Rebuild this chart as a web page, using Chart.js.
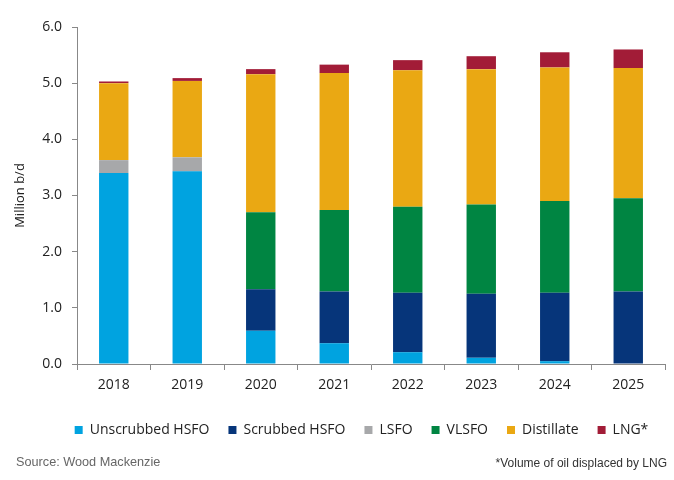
<!DOCTYPE html>
<html>
<head>
<meta charset="utf-8">
<script src="https://cdn.jsdelivr.net/npm/chart.js@4/dist/chart.umd.min.js"></script>
<style>
  html, body { margin: 0; padding: 0; background: #fff; }
  #wrap { position: relative; width: 674px; height: 480px; }
  #c { position: absolute; left: 0; top: 0; }
  .note { position: absolute; font-family: "Liberation Sans", Arial, sans-serif; white-space: nowrap; }
</style>
</head>
<body>
<div id="wrap">
  <canvas id="c" width="674" height="480"></canvas>
  <div class="note" style="left:16px; top:455px; font-size:12.7px; color:#666;">Source: Wood Mackenzie</div>
  <div class="note" style="right:7px; top:456px; font-size:12px; color:#333;">*Volume of oil displaced by LNG</div>
</div>
<script>
const years = ["2018","2019","2020","2021","2022","2023","2024","2025"];
const unscrubbedHSFO = [3.40, 3.43, 0.59, 0.37, 0.21, 0.11, 0.05, 0.00];
const scrubbedHSFO   = [0.00, 0.00, 0.74, 0.92, 1.06, 1.14, 1.22, 1.29];
const lsfo           = [0.23, 0.25, 0.00, 0.00, 0.00, 0.00, 0.00, 0.00];
const vlsfo          = [0.00, 0.00, 1.37, 1.45, 1.53, 1.59, 1.63, 1.66];
const distillate     = [1.37, 1.36, 2.46, 2.44, 2.43, 2.41, 2.38, 2.32];
const lng            = [0.03, 0.05, 0.09, 0.15, 0.18, 0.23, 0.27, 0.33];
const yTicks = [0, 1, 2, 3, 4, 5, 6];

const font = "'Open Sans', 'Liberation Sans', Arial, sans-serif";
const mk = (label, data, color) => ({ label, data, backgroundColor: color, borderWidth: 0, barPercentage: 0.4, categoryPercentage: 1.0 });

const shiftLegend = {
  id: 'shiftLegend',
  afterLayout(chart) {
    const lg = chart.legend;
    if (lg) { lg.left += 25; lg.right += 25; }
  }
};

new Chart(document.getElementById('c'), {
  type: 'bar',
  data: {
    labels: years,
    datasets: [
      mk('Unscrubbed HSFO', unscrubbedHSFO, '#00A3E0'),
      mk('Scrubbed HSFO', scrubbedHSFO, '#06357A'),
      mk('LSFO', lsfo, '#A7A8AA'),
      mk('VLSFO', vlsfo, '#008542'),
      mk('Distillate', distillate, '#EAA813'),
      mk('LNG*', lng, '#A21C37')
    ]
  },
  plugins: [shiftLegend],
  options: {
    responsive: false,
    animation: false,
    layout: { padding: { top: 27, right: 9, left: 8, bottom: 33 } },
    plugins: {
      legend: {
        position: 'bottom',
        labels: { boxWidth: 8, boxHeight: 8, padding: 19, color: '#222', font: { family: font, size: 14 } }
      },
      tooltip: { enabled: false }
    },
    scales: {
      x: {
        stacked: true,
        grid: { display: true, drawOnChartArea: false, drawTicks: true, tickLength: 6, color: '#888' },
        border: { display: true, color: '#888' },
        ticks: { color: '#222', font: { family: font, size: 14 }, padding: 7 },
        afterFit: s => { s.height = 40; }
      },
      y: {
        stacked: true,
        min: 0, max: 6,
        afterBuildTicks: s => { s.ticks = yTicks.map(v => ({ value: v })); },
        grid: { display: true, drawOnChartArea: false, drawTicks: true, tickLength: 5, color: '#888' },
        border: { display: true, color: '#888' },
        ticks: { color: '#222', font: { family: font, size: 14 }, padding: 10, callback: v => Number(v).toFixed(1) },
        title: { display: true, text: 'Million b/d', color: '#222', font: { family: font, size: 13 }, padding: 4 },
        afterFit: s => { s.width = 69; }
      }
    }
  }
});
</script>
</body>
</html>
